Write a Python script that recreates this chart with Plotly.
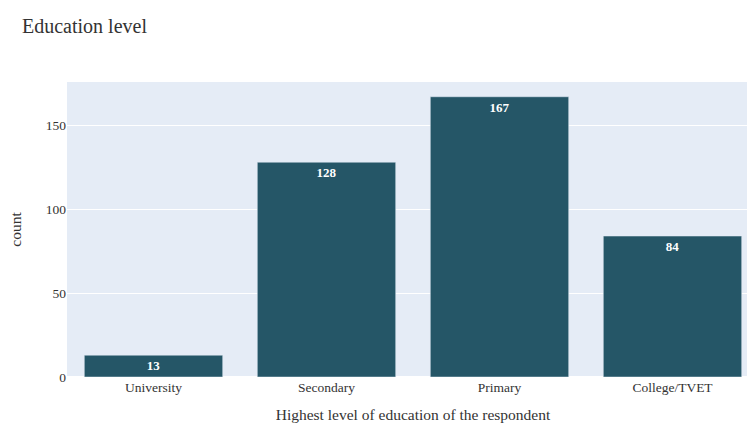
import plotly.graph_objects as go

categories = ["University", "Secondary", "Primary", "College/TVET"]
counts = [13, 128, 167, 84]

FIG_W = 839  # plot extends past the 747px viewport on the right

fig = go.Figure(
    go.Bar(
        x=categories,
        y=counts,
        text=counts,
        textposition="inside",
        insidetextanchor="end",
        textfont=dict(color="white", size=13, family="Liberation Serif", weight="bold"),
        marker=dict(color="#255667", line=dict(color="#e5ecf6", width=0.5)),
    )
)

fig.update_layout(
    template="plotly",
    width=FIG_W,
    height=423,
    margin=dict(l=67, r=80, t=82, b=46),
    font=dict(family="Liberation Serif", size=13.5, color="#333333"),
    title=dict(text="Education level", xref="container", x=22 / FIG_W,
               xanchor="left", y=0.955, font=dict(size=20, color="#333333")),
    xaxis=dict(title=dict(text="Highest level of education of the respondent",
                          font=dict(size=15.5, color="#333333")),
               tickfont=dict(size=13.5, color="#333333"), automargin=False),
    yaxis=dict(title=dict(text="count", font=dict(size=15.5, color="#333333"), standoff=20),
               tickfont=dict(size=13.5, color="#333333"), automargin=True),
    bargap=0.2,
    showlegend=False,
)

fig.write_html("out.html")
